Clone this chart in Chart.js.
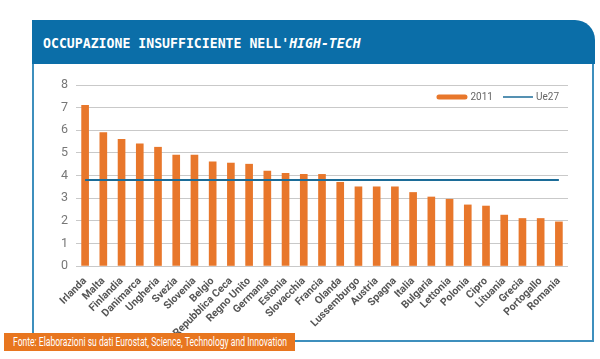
<!DOCTYPE html>
<html>
<head>
<meta charset="utf-8">
<script src="https://cdn.jsdelivr.net/npm/chart.js@4.4.0/dist/chart.umd.min.js"></script>
<style>
  html, body { margin: 0; padding: 0; background: #fff; }
  body { width: 600px; height: 359px; position: relative; overflow: hidden; }
  #frame {
    position: absolute; left: 32px; top: 60px; width: 562px; height: 282px;
    border: 2px solid #3d8fbd; border-top: none; box-sizing: border-box;
  }
  #title {
    position: absolute; left: 32px; top: 20px; width: 563px; height: 44px;
    background: #0b6ea8; border-top-right-radius: 20px; z-index: 2;
    color: #fff; font-family: 'DejaVu Sans Mono', monospace; font-weight: bold;
    font-size: 13.2px; line-height: 48px; padding-left: 11px; box-sizing: border-box;
    white-space: nowrap;
  }
  #title i { font-style: oblique; }
  #chart { position: absolute; left: 0; top: 0; z-index: 1; }
  #source {
    position: absolute; left: 4px; top: 333px; width: 291px; height: 18px;
    background: #e8761f; z-index: 2; overflow: hidden;
  }
  #source span {
    position: absolute; left: 9px; top: 0; line-height: 18px; color: #fff;
    font-family: Roboto, 'Liberation Sans', sans-serif;
    font-size: 12px; white-space: nowrap; transform-origin: 0 50%;
  }
</style>
</head>
<body>
<div id="frame"></div>
<div id="title">OCCUPAZIONE INSUFFICIENTE NELL'<i>HIGH-TECH</i></div>
<canvas id="chart" width="600" height="359"></canvas>
<div id="source"><span id="source-text">Fonte: Elaborazioni su dati Eurostat, Science, Technology and Innovation</span></div>
<script>
const countries = [
    "Irlanda", "Malta", "Finlandia", "Danimarca", "Ungheria", "Svezia", "Slovenia",
    "Belgio", "Repubblica Ceca", "Regno Unito", "Germania", "Estonia", "Slovacchia",
    "Francia", "Olanda", "Lussemburgo", "Austria", "Spagna", "Italia", "Bulgaria",
    "Lettonia", "Polonia", "Cipro", "Lituania", "Grecia", "Portogallo", "Romania"
];
const values2011 = [
    7.1, 5.9, 5.6, 5.4, 5.25, 4.9, 4.9,
    4.6, 4.55, 4.5, 4.2, 4.1, 4.05,
    4.05, 3.7, 3.5, 3.5, 3.5, 3.25, 3.05,
    2.95, 2.7, 2.65, 2.25, 2.1, 2.1, 1.95
];
const ue27 = [
    3.8, 3.8, 3.8, 3.8, 3.8, 3.8, 3.8, 3.8, 3.8, 3.8, 3.8, 3.8, 3.8, 3.8,
    3.8, 3.8, 3.8, 3.8, 3.8, 3.8, 3.8, 3.8, 3.8, 3.8, 3.8, 3.8, 3.8
];
const yTicks = [0, 1, 2, 3, 4, 5, 6, 7, 8];

const SANS = "Roboto, 'Liberation Sans', sans-serif";
const ORANGE = "#e8772b";
const BLUE = "#1c6c98";

// legend drawn inside the plot, top right
const inlineLegend = {
    id: "inlineLegend",
    afterDraw(chart) {
        const { ctx, chartArea } = chart;
        const y = chartArea.top + 12;
        ctx.save();
        ctx.font = "10px " + SANS;
        ctx.textBaseline = "middle";
        let x = chartArea.right - 9;
        const items = chart.data.datasets.slice().reverse();
        items.forEach((ds) => {
            const w = ctx.measureText(ds.label).width;
            x -= w;
            ctx.fillStyle = "#666";
            ctx.fillText(ds.label, x, y);
            x -= 3;
            if (ds.type === "line") {
                ctx.strokeStyle = ds.borderColor;
                ctx.lineWidth = 1.5;
                ctx.beginPath();
                ctx.moveTo(x - 30, y);
                ctx.lineTo(x, y);
                ctx.stroke();
            } else {
                ctx.fillStyle = ds.backgroundColor;
                ctx.beginPath();
                ctx.roundRect(x - 31, y - 2.5, 31, 5, 2.5);
                ctx.fill();
            }
            x -= 31 + 9;
        });
        ctx.restore();
    }
};

new Chart(document.getElementById("chart"), {
    data: {
        labels: countries,
        datasets: [
            {
                type: "bar",
                label: "2011",
                data: values2011,
                backgroundColor: ORANGE,
                barThickness: 7,
                order: 1,
            },
            {
                type: "line",
                label: "Ue27",
                data: ue27,
                borderColor: BLUE,
                borderWidth: 2,
                pointRadius: 0,
                fill: false,
                order: 0,
            },
        ],
    },
    options: {
        responsive: false,
        animation: false,
        layout: { padding: { left: 40, right: 32, top: 85, bottom: 0 } },
        plugins: {
            legend: { display: false },
            tooltip: { enabled: false },
        },
        scales: {
            x: {
                grid: { display: false },
                border: { display: false },
                ticks: {
                    autoSkip: false,
                    minRotation: 45,
                    maxRotation: 45,
                    padding: 1,
                    color: "#555",
                    font: { family: SANS, size: 10.5, weight: "bold" },
                },
                afterFit: (scale) => { scale.height = 93; },
            },
            y: {
                min: 0,
                max: 8,
                afterBuildTicks: (scale) => { scale.ticks = yTicks.map((v) => ({ value: v })); },
                grid: { color: "#c9c9c9", lineWidth: 1, drawTicks: false },
                border: { display: false },
                ticks: {
                    padding: 8,
                    color: "#777",
                    font: { family: SANS, size: 12.5 },
                },
                afterFit: (scale) => { scale.width = 36; },
            },
        },
    },
    plugins: [inlineLegend],
});

// squeeze the source line into its orange box
const src = document.getElementById("source-text");
const target = 274;
const sw = src.getBoundingClientRect().width;
src.style.transform = "scaleX(" + (target / sw) + ")";
</script>
</body>
</html>
